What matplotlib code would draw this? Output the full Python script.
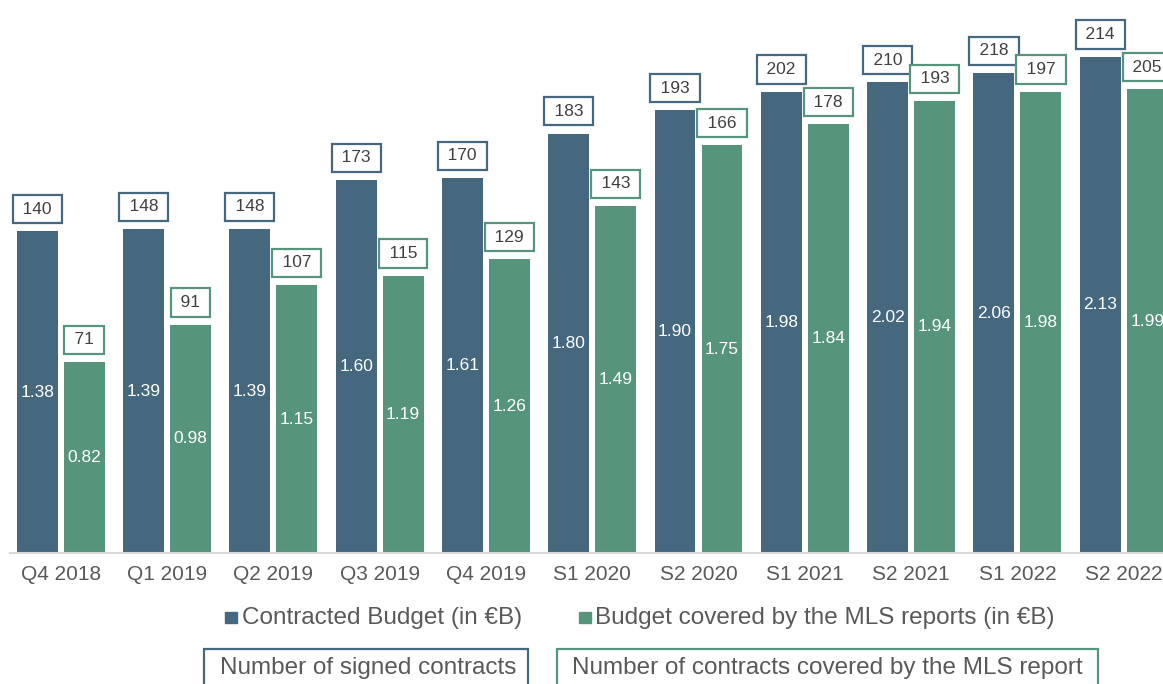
import matplotlib
matplotlib.use('Agg')
import matplotlib.pyplot as plt
import numpy as np
from matplotlib.patches import Rectangle

plt.rcParams['font.family'] = ['Liberation Sans', 'DejaVu Sans']

categories = ['Q4 2018', 'Q1 2019', 'Q2 2019', 'Q3 2019', 'Q4 2019', 'S1 2020',
              'S2 2020', 'S1 2021', 'S2 2021', 'S1 2022', 'S2 2022']
contracted_budget = [1.38, 1.39, 1.39, 1.60, 1.61, 1.80, 1.90, 1.98, 2.02, 2.06, 2.13]
covered_budget = [0.82, 0.98, 1.15, 1.19, 1.26, 1.49, 1.75, 1.84, 1.94, 1.98, 1.99]
signed_contracts = [140, 148, 148, 173, 170, 183, 193, 202, 210, 218, 214]
covered_contracts = [71, 91, 107, 115, 129, 143, 166, 178, 193, 197, 205]

BLUE = '#45687f'
GREEN = '#56957b'
TXT = '#595959'
DARK = '#404040'

W, H = 1163, 684
fig = plt.figure(figsize=(W / 100, H / 100), dpi=100)
ax = fig.add_axes([10 / W, (H - 553) / H, (W - 10) / W, 553 / H])

x = np.arange(len(categories))
off = 0.221
bw = 0.385
ax.bar(x - off, contracted_budget, width=bw, color=BLUE)
ax.bar(x + off, covered_budget, width=bw, color=GREEN)

ax.set_xlim(-(60.7 - 10) / 106.3, (W - 10 - 50.7) / 106.3)
ax.set_ylim(0, 553 / 233)

for s in ['top', 'right', 'left']:
    ax.spines[s].set_visible(False)
ax.spines['bottom'].set_color('#d9d9d9')
ax.spines['bottom'].set_linewidth(1.5)
ax.set_yticks([])
ax.set_xticks(x, categories)
ax.tick_params(axis='x', length=0, pad=9, labelsize=15, labelcolor=TXT)

TS = '\u2009'
for xi, v, c in zip(x, contracted_budget, signed_contracts):
    ax.text(xi - off, v / 2, f'{v:.2f}', ha='center', va='center', color='white', fontsize=12.5)
    ax.annotate(f'{TS}{c}{TS}', xy=(xi - off, v), xytext=(0, 16), textcoords='offset points',
                ha='center', va='center', fontsize=12.5, color=DARK,
                bbox=dict(boxstyle='square,pad=0.38', fc='white', ec=BLUE, lw=1.6))
for xi, v, c in zip(x, covered_budget, covered_contracts):
    ax.text(xi + off, v / 2, f'{v:.2f}', ha='center', va='center', color='white', fontsize=12.5)
    ax.annotate(f'{TS}{c}{TS}', xy=(xi + off, v), xytext=(0, 16), textcoords='offset points',
                ha='center', va='center', fontsize=12.5, color=DARK,
                bbox=dict(boxstyle='square,pad=0.38', fc='white', ec=GREEN, lw=1.6))

# legend row 1
fig.add_artist(Rectangle((225 / W, 1 - 623 / H), 12 / W, 11 / H, transform=fig.transFigure,
                         color=BLUE))
fig.text(242 / W, 1 - 618 / H, 'Contracted Budget (in €B)', ha='left', va='center',
         fontsize=17.5, color=TXT)
fig.add_artist(Rectangle((579 / W, 1 - 623 / H), 12 / W, 11 / H, transform=fig.transFigure,
                         color=GREEN))
fig.text(595 / W, 1 - 618 / H, 'Budget covered by the MLS reports (in €B)', ha='left',
         va='center', fontsize=17.5, color=TXT)

# legend row 2 (boxed labels)
fig.add_artist(Rectangle((204 / W, 1 - 695 / H), 324 / W, 46 / H, transform=fig.transFigure,
                         fill=False, ec=BLUE, lw=1.6))
fig.text(368 / W, 1 - 668 / H, 'Number of signed contracts', ha='center', va='center',
         fontsize=17.5, color=TXT)
fig.add_artist(Rectangle((557 / W, 1 - 695 / H), 541 / W, 46 / H, transform=fig.transFigure,
                         fill=False, ec=GREEN, lw=1.6))
fig.text(827 / W, 1 - 668 / H, 'Number of contracts covered by the MLS report', ha='center',
         va='center', fontsize=17.5, color=TXT)

fig.savefig('out.png', dpi=100)
